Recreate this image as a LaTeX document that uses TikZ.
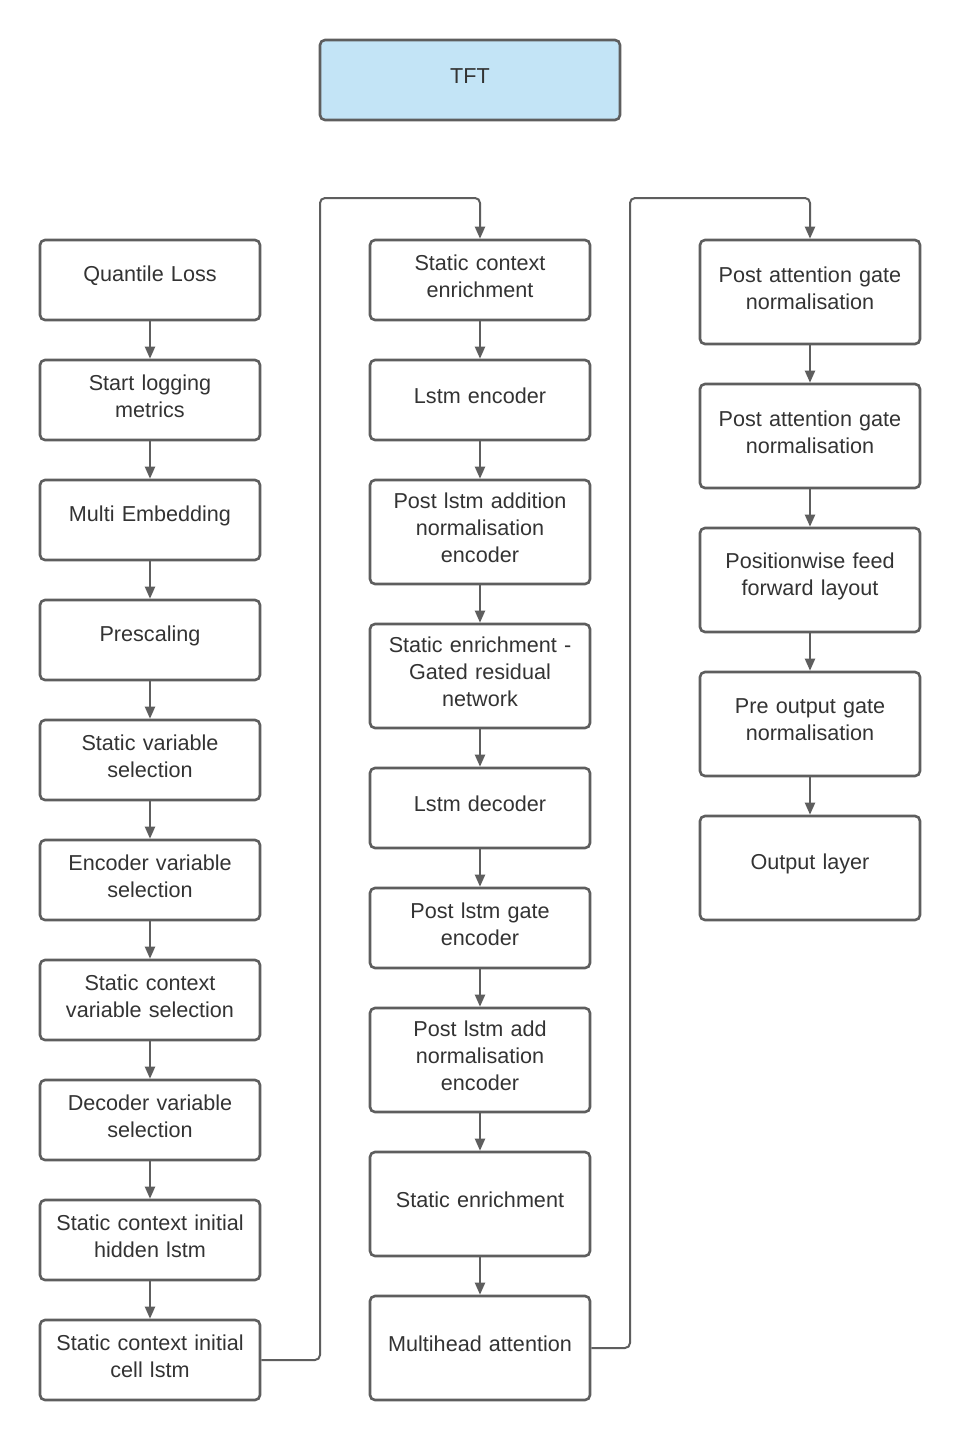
\documentclass[tikz,border=0pt]{standalone}
\usepackage{fontspec}
\setmainfont{Liberation Sans}
\usetikzlibrary{arrows.meta}
\definecolor{strokeg}{HTML}{5E5E5E}
\definecolor{textg}{HTML}{333333}
\definecolor{tftblue}{HTML}{C3E4F6}
\newcommand\myboxpad{\endgraf\vspace{8pt}}
\begin{document}
\begin{tikzpicture}[x=1pt,y=-1pt,
  box/.style={draw=strokeg, line width=2.6pt, rounded corners=5pt, fill=white,
    minimum width=220pt, minimum height=80pt, text width=210pt, align=center,
    inner sep=0pt, text=textg, font=\fontsize{21.6}{27}\selectfont,
    execute at end node=\myboxpad},
  tall/.style={minimum height=104pt},
  arr/.style={draw=strokeg, line width=2pt, -{Triangle[length=12pt,width=10pt]}},
  conn/.style={draw=strokeg, line width=2pt, rounded corners=5pt, -{Triangle[length=12pt,width=10pt]}}]
\useasboundingbox (0,0) rectangle (960,1440);
\fill[white] (0,0) rectangle (960,1440);

\node[box, fill=tftblue, minimum width=300pt, text width=280pt] (tft) at (470,80) {TFT};

% column 1
\node[box] (a1) at (150,280) {Quantile Loss};
\node[box] (a2) at (150,400) {Start logging\\metrics};
\node[box] (a3) at (150,520) {Multi Embedding};
\node[box] (a4) at (150,640) {Prescaling};
\node[box] (a5) at (150,760) {Static variable\\selection};
\node[box] (a6) at (150,880) {Encoder variable\\selection};
\node[box] (a7) at (150,1000) {Static context\\variable selection};
\node[box] (a8) at (150,1120) {Decoder variable\\selection};
\node[box] (a9) at (150,1240) {Static context initial\\hidden lstm};
\node[box] (a10) at (150,1360) {Static context initial\\cell lstm};

% column 2
\node[box] (b1) at (480,280) {Static context\\enrichment};
\node[box] (b2) at (480,400) {Lstm encoder};
\node[box, tall] (b3) at (480,532) {Post lstm addition\\normalisation\\encoder};
\node[box, tall] (b4) at (480,676) {Static enrichment -\\Gated residual\\network};
\node[box] (b5) at (480,808) {Lstm decoder};
\node[box] (b6) at (480,928) {Post lstm gate\\encoder};
\node[box, tall] (b7) at (480,1060) {Post lstm add\\normalisation\\encoder};
\node[box, tall] (b8) at (480,1204) {Static enrichment};
\node[box, tall] (b9) at (480,1348) {Multihead attention};

% column 3
\node[box, tall] (c1) at (810,292) {Post attention gate\\normalisation};
\node[box, tall] (c2) at (810,436) {Post attention gate\\normalisation};
\node[box, tall] (c3) at (810,580) {Positionwise feed\\forward layout};
\node[box, tall] (c4) at (810,724) {Pre output gate\\normalisation};
\node[box, tall] (c5) at (810,868) {Output layer};

\foreach \p/\q in {a1/a2,a2/a3,a3/a4,a4/a5,a5/a6,a6/a7,a7/a8,a8/a9,a9/a10,
  b1/b2,b2/b3,b3/b4,b4/b5,b5/b6,b6/b7,b7/b8,b8/b9,
  c1/c2,c2/c3,c3/c4,c4/c5}
  \draw[arr] (\p.south) -- (\q.north);

\coordinate (j1) at (320,198);
\coordinate (j2) at (630,198);
\draw[conn] (a10.east) -| (j1) -| (b1.north);
\draw[conn] (b9.east) -| (j2) -| (c1.north);
\end{tikzpicture}
\end{document}
